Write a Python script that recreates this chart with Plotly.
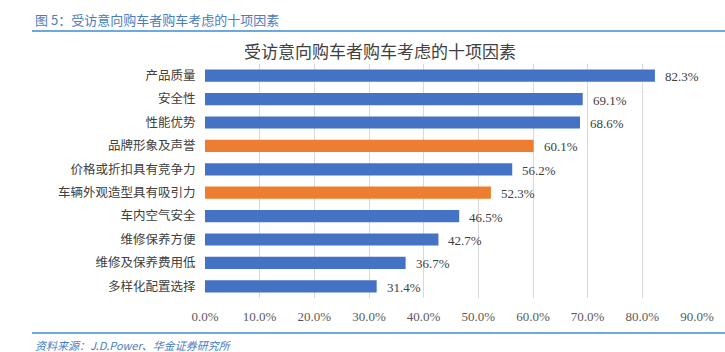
import plotly.graph_objects as go

categories = ["产品质量", "安全性", "性能优势", "品牌形象及声誉", "价格或折扣具有竞争力",
              "车辆外观造型具有吸引力", "车内空气安全", "维修保养方便", "维修及保养费用低", "多样化配置选择"]
values = [82.3, 69.1, 68.6, 60.1, 56.2, 52.3, 46.5, 42.7, 36.7, 31.4]
highlight = [False, False, False, True, False, True, False, False, False, False]
tick_vals = [0, 10, 20, 30, 40, 50, 60, 70, 80, 90]
tick_text = [f"{v:.1f}%" for v in tick_vals]

BLUE = "#4472C4"
ORANGE = "#ED7D31"
colors = [ORANGE if h else BLUE for h in highlight]

W, H = 725, 352
ML, MR, MT, MB = 205, 28, 64, 54
PW, PH = W - ML - MR, H - MT - MB


def px(x):
    return (x - ML) / PW


def py(y):
    return (H - MB - y) / PH


fig = go.Figure()
fig.add_trace(go.Bar(
    x=values, y=categories, orientation="h",
    marker=dict(color=colors, line=dict(width=0)),
    width=0.52, hoverinfo="skip",
))

for c, v in zip(categories, values):
    fig.add_annotation(x=v, y=c, text=f"{v:.1f}%", showarrow=False,
                       xanchor="left", xshift=8, yshift=-1,
                       font=dict(family="Liberation Serif", size=13, color="#404040"))

fig.update_layout(
    width=W, height=H,
    margin=dict(l=ML, r=MR, t=MT, b=MB),
    paper_bgcolor="white", plot_bgcolor="white",
    showlegend=False,
    xaxis=dict(range=[0, 90], tickvals=tick_vals, ticktext=tick_text,
               showgrid=True, gridcolor="#D9D9D9", gridwidth=1, zeroline=False,
               showline=False, ticks="outside", ticklen=6, tickcolor="white",
               tickfont=dict(family="Liberation Serif", size=13, color="#595959"),
               fixedrange=True),
    yaxis=dict(autorange="reversed", showgrid=False, zeroline=False, showline=False,
               ticks="outside", ticklen=6, tickcolor="white",
               tickfont=dict(family="Noto Sans CJK SC", size=12.5, color="#404040"),
               fixedrange=True),
)

fig.add_annotation(xref="paper", yref="paper", x=px(33), y=py(19),
                   xanchor="left", yanchor="middle", showarrow=False,
                   text="图 5：受访意向购车者购车考虑的十项因素",
                   font=dict(family="Noto Sans CJK SC", size=13, color="#4A7CC0"))
fig.add_annotation(xref="paper", yref="paper", x=px(380), y=py(50),
                   xanchor="center", yanchor="middle", showarrow=False,
                   text="受访意向购车者购车考虑的十项因素",
                   font=dict(family="Noto Sans CJK SC", size=17, color="#404040"))
fig.add_annotation(xref="paper", yref="paper", x=px(33), y=py(345),
                   xanchor="left", yanchor="middle", showarrow=False,
                   text="<i>资料来源：J.D.Power、华金证券研究所</i>",
                   font=dict(family="Noto Sans CJK SC", size=11, color="#4A7CC0"))

for yl in (31, 333):
    fig.add_shape(type="line", xref="paper", yref="paper",
                  x0=px(32), x1=px(725), y0=py(yl), y1=py(yl),
                  line=dict(color="#3C8DD6", width=1.5))

fig.write_html("out.html")
